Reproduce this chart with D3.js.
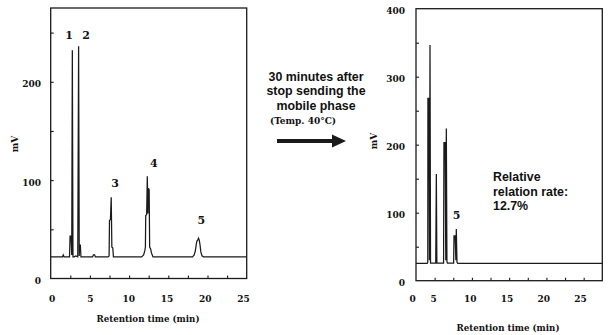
<!DOCTYPE html>
<html><head><meta charset="utf-8">
<script src="https://cdn.jsdelivr.net/npm/d3@7"></script>
<style>
html,body{margin:0;padding:0;background:#fff;}
svg{display:block;}
.tk{font-family:"DejaVu Serif",serif;font-weight:bold;font-size:9px;fill:#111;}
.ann{font-family:"Liberation Sans",Arial,sans-serif;font-weight:bold;font-size:12.4px;fill:#111;}
</style>
</head><body>
<script>
// ---- data ----
const leftTime  = [0,1.5,1.6,1.7,2.4,2.47,2.6,2.68,2.76,2.84,3.0,3.2,3.45,3.56,3.64,3.68,3.78,3.86,5.35,5.45,5.6,5.7,7.3,7.45,7.5,7.62,7.72,7.8,7.92,8.0,11.6,11.85,12.0,12.08,12.12,12.24,12.32,12.4,12.46,12.56,12.62,12.75,12.85,13.05,18.1,18.3,18.45,18.55,18.65,18.75,18.85,18.95,19.05,19.15,19.3,19.5,25];
const leftValue = [22,22,24,22,22,43,43,24,232,22,22,23,22,236,23,34,34,22,22,24,24,22,22,23,59,60,82.5,32,31,22,22,24,28,32,64,65,104,66,91.7,90,32,30,26,22,22,24,28,34,38,39,41,39,34,27,23,22,22];
const rightTime  = [0,1.5,1.58,1.6,1.72,1.8,1.88,1.95,2.65,2.73,2.8,3.7,3.75,3.9,4.0,4.07,4.15,4.22,5.05,5.1,5.25,5.35,5.41,5.5,5.6,25];
const rightValue = [25.6,25.6,27,268,268,30,346.6,26,26,157,26,26,203,203,30,224,28,26,26,66,66,30,76,27,25.6,25.6];
const leftPeakLabels  = ["1","2","3","4","5"];
const leftLabelTime   = [2.34,4.5,8.2,13.15,19.2];
const leftLabelValue  = [247,247,97,117,59];
const rightPeakLabels = ["5"];
const rightLabelTime  = [5.45];
const rightLabelValue = [97];
const leftYTickLabels  = [0,100,200];
const leftYMinorTicks  = [50,100,150,200,250];
const rightYTickLabels = [0,100,200,300,400];
const rightYMinorTicks = [50,100,150,200,250,300,350];
const xMinorTicks = [2.5,5,7.5,10,12.5,15,17.5,20,22.5];
const xTickLabels = [0,5,10,15,20,25];
const xTitle = "Retention time (min)";
const yTitle = "mV";
const middleText = ["30 minutes after","stop sending the","mobile phase"];
const tempText = "(Temp. 40°C)";
const rateText = ["Relative","relation rate:","12.7%"];

const W=612,H=335;
const svg=d3.select("body").append("svg").attr("width",W).attr("height",H);
const ink="#1a1a1a";

function panel(cfg){
  const g=svg.append("g");
  const x=cfg.x, y=cfg.y;
  // frame
  g.append("rect").attr("x",x.range()[0]).attr("y",y.range()[1])
   .attr("width",x.range()[1]-x.range()[0]).attr("height",y.range()[0]-y.range()[1])
   .attr("fill","none").attr("stroke",ink).attr("stroke-width",1.3);
  // inside minor y ticks
  const ay=g.append("g").attr("transform",`translate(${x.range()[0]},0)`)
    .call(d3.axisRight(y).tickValues(cfg.yMinor).tickSize(3).tickFormat(""));
  ay.select(".domain").remove();
  ay.selectAll("line").attr("stroke",ink).attr("stroke-width",1.1);
  // inside minor x ticks
  const ax=g.append("g").attr("transform",`translate(0,${y.range()[0]})`)
    .call(d3.axisTop(x).tickValues(xMinorTicks).tickSize(3).tickFormat(""));
  ax.select(".domain").remove();
  ax.selectAll("line").attr("stroke",ink).attr("stroke-width",1.1);
  // y tick labels
  const yl=g.append("g").attr("transform",`translate(${cfg.yLabelX},2)`)
    .call(d3.axisLeft(y).tickValues(cfg.yLabels).tickSize(0).tickPadding(0));
  yl.select(".domain").remove();
  yl.selectAll("text").attr("class","tk").attr("font-family",null).attr("font-size",null);
  // x tick labels
  const xl=g.append("g").attr("transform",`translate(0,${cfg.xLabelY})`)
    .call(d3.axisBottom(cfg.xl).tickValues(xTickLabels).tickSize(0).tickPadding(0));
  xl.select(".domain").remove();
  xl.selectAll("text").attr("class","tk").attr("font-family",null).attr("font-size",null);
  // x title
  g.append("text").attr("class","tk").attr("x",cfg.titleX).attr("y",cfg.titleY)
   .attr("text-anchor","middle").attr("textLength",103).attr("lengthAdjust","spacingAndGlyphs").text(xTitle);
  // y title
  g.append("text").attr("class","tk").attr("transform",`translate(${cfg.yTitleX},${cfg.yTitleY}) rotate(-90)`)
   .attr("text-anchor","middle").text(yTitle);
  // trace
  const pts=cfg.t.map((t,i)=>[t,cfg.v[i]]);
  g.append("path").datum(pts).attr("fill","none").attr("stroke",ink).attr("stroke-width",1.25)
   .attr("stroke-linejoin","miter")
   .attr("d",d3.line().x(d=>x(d[0])).y(d=>y(d[1])));
  // peak labels
  g.selectAll(".pk").data(cfg.pl).enter().append("text").attr("class","tk")
   .style("font-size","11px").attr("text-anchor","middle")
   .attr("x",(d,i)=>x(cfg.plt[i])).attr("y",(d,i)=>y(cfg.plv[i])).attr("dy","0.35em").text(d=>d);
}

panel({
  x:d3.scaleLinear([0,25],[50.7,246.7]),
  y:d3.scaleLinear([0,275],[278.5,8]),
  xl:d3.scaleLinear([0,25],[51.7,243]),
  yMinor:leftYMinorTicks, yLabels:leftYTickLabels, yLabelX:41, xLabelY:296,
  titleX:148, titleY:322, yTitleX:18, yTitleY:144,
  t:leftTime, v:leftValue, pl:leftPeakLabels, plt:leftLabelTime, plv:leftLabelValue
});
panel({
  x:d3.scaleLinear([0,25],[416,602.3]),
  y:d3.scaleLinear([0,400],[280.7,8.7]),
  xl:d3.scaleLinear([0,5,25],[412,433,580]),
  yMinor:rightYMinorTicks, yLabels:rightYTickLabels, yLabelX:405, xLabelY:296,
  titleX:508, titleY:331, yTitleX:377, yTitleY:141,
  t:rightTime, v:rightValue, pl:rightPeakLabels, plt:rightLabelTime, plv:rightLabelValue
});

// middle annotation
const mid=svg.append("g");
mid.selectAll("text.m").data(middleText).enter().append("text").attr("class","ann")
  .attr("x",316).attr("y",(d,i)=>80.7+i*14.6).attr("text-anchor","middle").text(d=>d);
mid.append("text").attr("class","tk").attr("x",303).attr("y",124).attr("text-anchor","middle").text(tempText);
mid.append("line").attr("x1",277).attr("x2",334).attr("y1",141).attr("y2",141).attr("stroke",ink).attr("stroke-width",4);
mid.append("path").attr("d",d3.line()([[332,134.5],[346,141],[332,147.5]])+"Z").attr("fill",ink);

// rate annotation
svg.selectAll("text.r").data(rateText).enter().append("text").attr("class","ann")
  .attr("x",493).attr("y",(d,i)=>181+i*14.6).text(d=>d);
</script>
</body></html>
